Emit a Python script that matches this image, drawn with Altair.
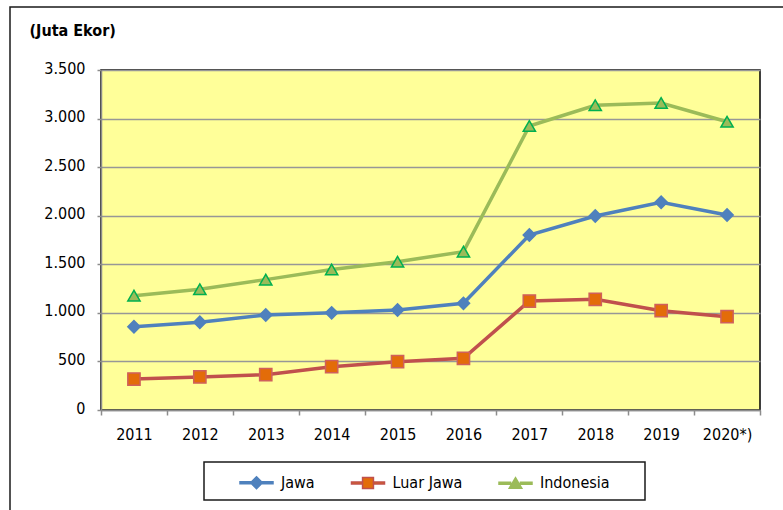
import altair as alt
import pandas as pd

years = ["2011", "2012", "2013", "2014", "2015", "2016", "2017", "2018", "2019", "2020*)"]
jawa = [857, 903, 978, 1000, 1029, 1098, 1801, 1997, 2138, 2007]
luar_jawa = [319, 340, 364, 446, 497, 532, 1122, 1140, 1022, 960]
indonesia = [1177, 1243, 1342, 1446, 1526, 1630, 2923, 3137, 3160, 2967]
series = ["Jawa", "Luar Jawa", "Indonesia"]
y_ticks = [0, 500, 1000, 1500, 2000, 2500, 3000, 3500]

line_colors = ["#4F81BD", "#C0504D", "#9BBB59"]
marker_fill = ["#4F81BD", "#E36C09", "#9BBB59"]
marker_stroke = ["#4F81BD", "#D0605C", "#00B050"]
marker_shapes = ["diamond", "square", "triangle-up"]
legend_stroke = ["#4F81BD", "#C0504D", "#9BBB59"]
legend_paths = [
    "M-1,-0.06H-0.36V0.06H-1ZM0.36,-0.06H1V0.06H0.36ZM0,-0.36L0.36,0L0,0.36L-0.36,0Z",
    "M-1,-0.06H-0.33V0.06H-1ZM0.33,-0.06H1V0.06H0.33ZM-0.33,-0.33H0.33V0.33H-0.33Z",
    "M-1,-0.06H-0.3V0.06H-1ZM0.3,-0.06H1V0.06H0.3ZM0,-0.34L0.38,0.3H-0.38Z",
]

FONT = "DejaVu Sans Condensed, DejaVu Sans"

rows = []
for name, vals in zip(series, [jawa, luar_jawa, indonesia]):
    for yr, v in zip(years, vals):
        rows.append({"Tahun": yr, "Seri": name, "Nilai": v})
df = pd.DataFrame(rows)

x_enc = alt.X(
    "Tahun:N",
    bandPosition=0.5,
    scale=alt.Scale(type="band", domain=years, paddingInner=0, paddingOuter=0),
    axis=alt.Axis(
        title=None, labelAngle=0, tickBand="extent", grid=False,
        domainColor="#8C8C8C", domainWidth=1.5, tickColor="#8C8C8C", tickWidth=1.5,
        tickSize=5, labelPadding=11, labelFont=FONT, labelFontSize=16, labelColor="black",
    ),
)
y_enc = alt.Y(
    "Nilai:Q",
    scale=alt.Scale(domain=[0, 3500], nice=False),
    axis=alt.Axis(
        values=y_ticks,
        labelExpr="replace(format(datum.value, ','), ',', '.')",
        title="(Juta Ekor)", titleAngle=0, titleX=-72, titleY=-34.5,
        titleAlign="left", titleBaseline="alphabetic", titleFontWeight="bold",
        titleFontSize=16, titleFont=FONT, titleColor="black",
        grid=True, gridColor="#979797", gridWidth=1.3,
        domainColor="#8C8C8C", domainWidth=1.5, tickColor="#8C8C8C", tickWidth=1.5,
        tickSize=4, labelPadding=12, labelFont=FONT, labelFontSize=16, labelColor="black",
        labelOffset=-2,
    ),
)

base = alt.Chart(df)

lines = base.mark_line(strokeWidth=3.5).encode(
    x=x_enc, y=y_enc,
    color=alt.Color("Seri:N", scale=alt.Scale(domain=series, range=line_colors), legend=None),
)

points = base.mark_point(filled=True, opacity=1, size=150, strokeWidth=1.5).encode(
    x=x_enc, y=y_enc,
    fill=alt.Fill("Seri:N", scale=alt.Scale(domain=series, range=marker_fill), legend=None),
    stroke=alt.Stroke("Seri:N", scale=alt.Scale(domain=series, range=marker_stroke), legend=None),
    shape=alt.Shape("Seri:N", scale=alt.Scale(domain=series, range=marker_shapes), legend=None),
)

leg = alt.Legend(title=None)
ghost = alt.Chart(alt.Data(values=[{"Seri": s} for s in series])).mark_point(
    filled=True, opacity=1, strokeWidth=1.5
).encode(
    fill=alt.Fill("Seri:N", scale=alt.Scale(domain=series, range=marker_fill), legend=leg),
    stroke=alt.Stroke("Seri:N", scale=alt.Scale(domain=series, range=legend_stroke), legend=leg),
    shape=alt.Shape("Seri:N", scale=alt.Scale(domain=series, range=legend_paths), legend=leg),
).transform_filter("false")

one = alt.Data(values=[{"k": 1}])
frame = alt.Chart(one).mark_rect(fillOpacity=0, stroke="#1a1a1a", strokeWidth=1.5).encode(
    x=alt.value(-91), x2=alt.value(900), y=alt.value(-63), y2=alt.value(700)
)
legend_box = alt.Chart(one).mark_rect(fillOpacity=0, stroke="#1a1a1a", strokeWidth=1.5).encode(
    x=alt.value(103), x2=alt.value(544), y=alt.value(392), y2=alt.value(430)
)

chart = alt.layer(frame, legend_box, lines, points, ghost).resolve_scale(
    fill="independent", stroke="independent", shape="independent"
).properties(
    width=659, height=340,
    autosize=alt.AutoSizeParams(type="none"),
    padding={"left": 101, "top": 70, "right": 23, "bottom": 100},
    view=alt.ViewBackground(fill="#FFFF99", stroke="black", strokeWidth=1.5),
).configure(
    background="white"
).configure_view(
    fill="#FFFF99", stroke="black", strokeWidth=1.5
).configure_legend(
    orient="none", legendX=138, legendY=395, direction="horizontal", columns=3,
    columnPadding=33.5, symbolSize=1089, symbolStrokeWidth=1.5, labelOffset=7,
    labelFont=FONT, labelFontSize=16, labelColor="black", padding=0,
)

chart.save("out.html", embed_options={"renderer": "svg", "actions": False})
